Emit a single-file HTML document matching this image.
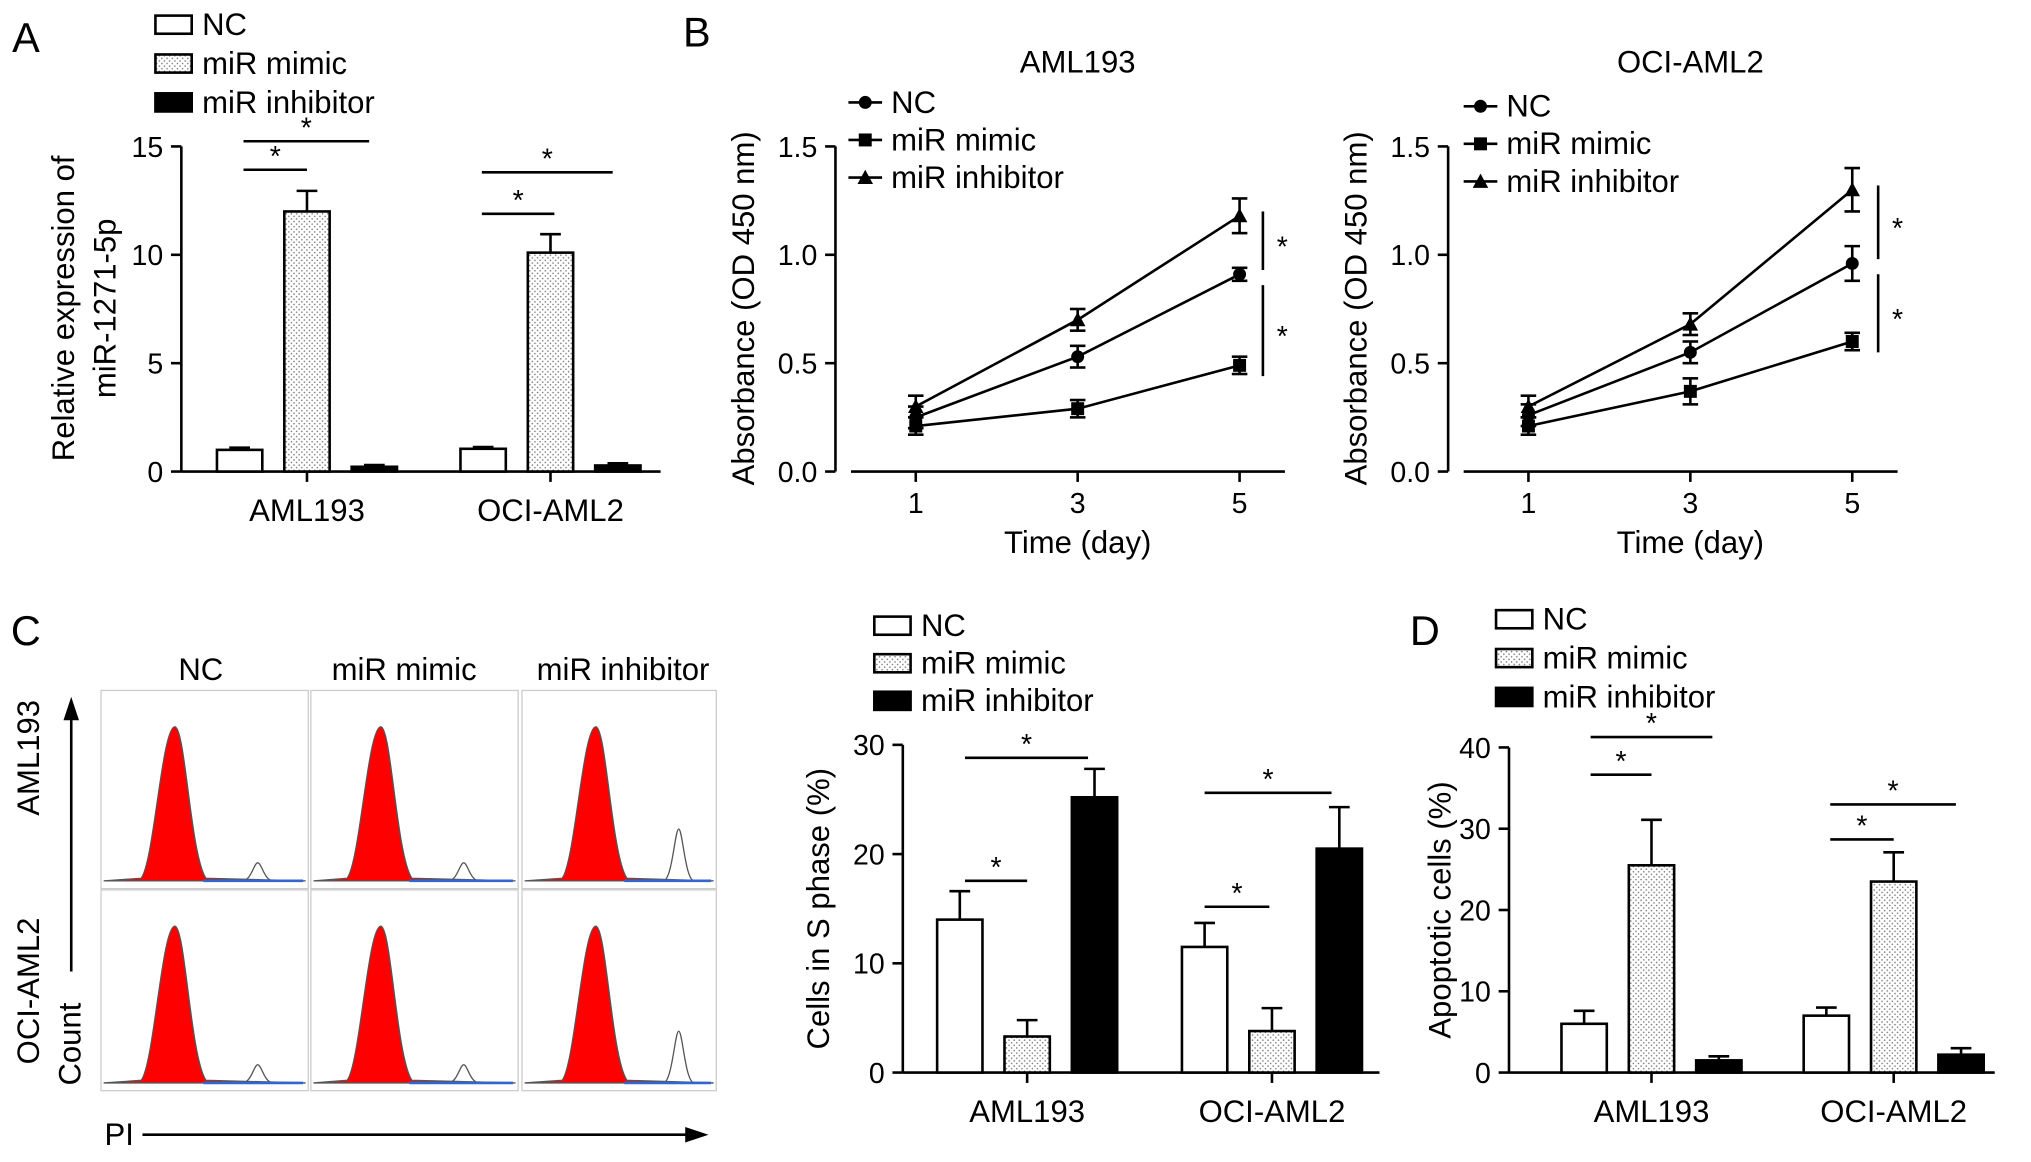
<!DOCTYPE html>
<html><head><meta charset="utf-8">
<style>
html,body{margin:0;padding:0;background:#fff;}
svg{display:block;font-family:"Liberation Sans",Arial,sans-serif;}
</style></head>
<body>
<svg id="fig" width="2031" height="1162" viewBox="0 0 1568 897" xmlns="http://www.w3.org/2000/svg">
<defs>
<pattern id="dots" width="4" height="4" patternUnits="userSpaceOnUse">
<rect width="4" height="4" fill="#fff"/><circle cx="1" cy="1" r="0.6" fill="#777"/><circle cx="3" cy="3" r="0.6" fill="#777"/>
</pattern>
</defs>
<g id="root"></g>
</svg>
<script>
// ---- Panel A data ----
const aGroups = ["AML193", "OCI-AML2"];
const aNC = [1.0, 1.05];
const aMimic = [12.0, 10.1];
const aInhib = [0.22, 0.28];
const aNCErr = [0.1, 0.08];
const aMimicErr = [0.95, 0.85];
const aInhibErr = [0.08, 0.1];
const aTicks = [0, 5, 10, 15];
// ---- Panel B data ----
const bDays = [1, 3, 5];
const bLeftNC = [0.25, 0.53, 0.91];
const bLeftMimic = [0.21, 0.29, 0.49];
const bLeftInhib = [0.30, 0.70, 1.18];
const bLeftNCErr = [0.05, 0.05, 0.03];
const bLeftMimicErr = [0.04, 0.04, 0.04];
const bLeftInhibErr = [0.05, 0.05, 0.08];
const bRightNC = [0.26, 0.55, 0.96];
const bRightMimic = [0.21, 0.37, 0.60];
const bRightInhib = [0.30, 0.68, 1.30];
const bRightNCErr = [0.05, 0.05, 0.08];
const bRightMimicErr = [0.04, 0.06, 0.04];
const bRightInhibErr = [0.05, 0.05, 0.1];
const bTicks = [0.0, 0.5, 1.0, 1.5];
// ---- Panel C bar data ----
const cNC = [14.0, 11.5];
const cMimic = [3.3, 3.8];
const cInhib = [25.2, 20.5];
const cNCErr = [2.6, 2.2];
const cMimicErr = [1.5, 2.1];
const cInhibErr = [2.6, 3.8];
const cTicks = [0, 10, 20, 30];
// ---- Panel D data ----
const dNC = [6.0, 7.0];
const dMimic = [25.5, 23.5];
const dInhib = [1.5, 2.2];
const dNCErr = [1.6, 1.0];
const dMimicErr = [5.6, 3.6];
const dInhibErr = [0.5, 0.8];
const dTicks = [0, 10, 20, 30, 40];

const NS = "http://www.w3.org/2000/svg";
const root = document.getElementById("root");
function el(tag, attrs, parent, txt){
  const e = document.createElementNS(NS, tag);
  for (const k in attrs) e.setAttribute(k, attrs[k]);
  if (txt !== undefined) e.textContent = txt;
  (parent || root).appendChild(e);
  return e;
}
function line(x1,y1,x2,y2,w,name){
  const e = el("line",{x1,y1,x2,y2,stroke:"#000","stroke-width":w||2});
  
  
  return e;
}
function text(x,y,s,size,anchor,name,rot){
  const a = {x,y,"font-size":size,"text-anchor":anchor||"middle",fill:"#000"};
  if (rot) a.transform = "rotate(-90 "+x+" "+y+")";
  const e = el("text",a,null,s);
  
  
  return e;
}
const fills = ["#fff","url(#dots)","#000"];

function legend(x,y0,dy,name,ww){
  const labs = ["NC","miR mimic","miR inhibitor"];
  labs.forEach((l,i)=>{
    const r = el("rect",{x:x,y:y0+i*dy-7,width:ww||28,height:14,fill:fills[i],stroke:"#000","stroke-width":2});
    
    
    text(x+(ww||28)+8, y0+i*dy+8, l, 24, "start", name+'-entry');
  });
}

function barPanel(opt){
  const {ax, y0, y1, vmax, ticks, xEnd, centers, series, errs, groups, ylab, labX, name} = opt;
  const ys = v => y0 - (v/vmax)*(y0-y1);
  line(ax, y1, ax, y0, 2, name+'-y-axis');
  line(ax, y0, xEnd, y0, 2, name+'-x-axis');
  ticks.forEach(t=>{
    line(ax-8, ys(t), ax, ys(t), 2, name+'-y-tick');
    text(ax-14, ys(t)+8, String(t), 22, "end", name+'-y-tick-label');
  });
  const bw = 35, gap = 52;
  groups.forEach((g,gi)=>{
    line(centers[gi], y0, centers[gi], y0+8, 2, name+'-x-tick');
    text(centers[gi], y0+38, g, 24, "middle", name+'-x-tick-label');
    series.forEach((s,si)=>{
      const cx = centers[gi] + (si-1)*gap;
      const v = s[gi], e = errs[si][gi];
      const r = el("rect",{x:cx-bw/2,y:ys(v),width:bw,height:y0-ys(v),fill:fills[si],stroke:"#000","stroke-width":2});
      
      
      line(cx, ys(v+e), cx, ys(v), 2, name+'-error-bar');
      line(cx-8, ys(v+e), cx+8, ys(v+e), 2, name+'-error-cap');
      if (si===2) { line(cx, ys(v), cx, ys(Math.max(v-e,0)), 2, name+'-error-bar'); line(cx-8, ys(Math.max(v-e,0)), cx+8, ys(Math.max(v-e,0)), 2, name+'-error-cap'); }
    });
  });
  if (ylab) text(labX, (y0+y1)/2, ylab, 24, "middle", name+'-y-axis-title', true);
  return ys;
}
function sig(x1,x2,y,name){
  line(x1,y,x2,y,2,name+'-sig-line');
  text((x1+x2)/2, y-3, "*", 22, "middle", name+'-sig-star');
}

// ===== Panel A =====
text(20, 40, "A", 32, "middle", "panel-a-letter");
legend(120, 19, 30, "legend-a");
barPanel({ax:140,y0:364,y1:113,vmax:15,ticks:aTicks,xEnd:510,centers:[237,425],
  series:[aNC,aMimic,aInhib],errs:[aNCErr,aMimicErr,aInhibErr],groups:aGroups,ylab:"",labX:50,name:"panel-a"});
text(57, 238, "Relative expression of", 24, "middle", "panel-a-y-axis-title", true);
text(89, 238, "miR-1271-5p", 24, "middle", "panel-a-y-axis-title-2", true);
sig(188,237,131,"panel-a"); sig(188,285,109,"panel-a");
sig(372,428,165,"panel-a"); sig(372,473,133,"panel-a");

// ===== Panel B =====
text(538, 36, "B", 32, "middle", "panel-b-letter");
function linePanel(opt){
  const {ax, x1, x5, title, nc, mi, inh, ncE, miE, inE, legX, legY, name, sigX} = opt;
  const y0=364, y1=113;
  const ys = v => y0 - (v/1.5)*(y0-y1);
  const xs = d => x1 + (d-1)/4*(x5-x1);
  line(ax, y1, ax, y0, 2, name+'-y-axis');
  line(ax+12, y0, x5+35, y0, 2, name+'-x-axis');
  bTicks.forEach(t=>{
    line(ax-8, ys(t), ax, ys(t), 2, name+'-y-tick');
    text(ax-14, ys(t)+8, t.toFixed(1), 22, "end", name+'-y-tick-label');
  });
  bDays.forEach(d=>{
    line(xs(d), y0, xs(d), y0+8, 2, name+'-x-tick');
    text(xs(d), y0+32, String(d), 22, "middle", name+'-x-tick-label');
  });
  text((x1+x5)/2, y0+63, "Time (day)", 24, "middle", name+'-x-axis-title');
  text(ax-63, 238, "Absorbance (OD 450 nm)", 24, "middle", name+'-y-axis-title', true);
  text((x1+x5)/2, 56, title, 24, "middle", name+'-title');
  const sets = [[nc,ncE,"circle"],[mi,miE,"square"],[inh,inE,"triangle"]];
  sets.forEach(([vals,errs,shape],si)=>{
    const pts = bDays.map((d,i)=>xs(d)+","+ys(vals[i])).join(" ");
    const p = el("polyline",{points:pts,fill:"none",stroke:"#000","stroke-width":2});
    
    
    bDays.forEach((d,i)=>{
      const x=xs(d), y=ys(vals[i]), e=errs[i];
      line(x, ys(vals[i]+e), x, ys(vals[i]-e), 2, name+'-error-bar');
      line(x-6, ys(vals[i]+e), x+6, ys(vals[i]+e), 2, name+'-error-cap');
      line(x-6, ys(vals[i]-e), x+6, ys(vals[i]-e), 2, name+'-error-cap');
      let m;
      if (shape==="circle") m = el("circle",{cx:x,cy:y,r:5,fill:"#000"});
      else if (shape==="square") m = el("rect",{x:x-5,y:y-5,width:10,height:10,fill:"#000"});
      else m = el("polygon",{points:(x)+","+(y-6)+" "+(x-6)+","+(y+5)+" "+(x+6)+","+(y+5),fill:"#000"});
      
      
    });
  });
  const labs = ["NC","miR mimic","miR inhibitor"];
  labs.forEach((l,i)=>{
    const y = legY + i*29;
    line(legX, y, legX+26, y, 2, name+'-legend-line');
    let m; const x=legX+13;
    if (i===0) m = el("circle",{cx:x,cy:y,r:5,fill:"#000"});
    else if (i===1) m = el("rect",{x:x-5,y:y-5,width:10,height:10,fill:"#000"});
    else m = el("polygon",{points:x+","+(y-6)+" "+(x-6)+","+(y+5)+" "+(x+6)+","+(y+5),fill:"#000"});
    
    
    text(legX+33, y+8, l, 24, "start", name+'-legend-entry');
  });
  const yA = ys(inh[2]+0.02), yB = ys(nc[2]+0.02), yC = ys(nc[2]-0.05), yD = ys(mi[2]-0.05);
  line(sigX, yA, sigX, yB, 2, name+'-sig-line');
  text(sigX+15, (yA+yB)/2+12, "*", 22, "middle", name+'-sig-star');
  line(sigX, yC, sigX, yD, 2, name+'-sig-line');
  text(sigX+15, (yC+yD)/2+12, "*", 22, "middle", name+'-sig-star');
}
linePanel({ax:645,x1:707,x5:957,title:"AML193",nc:bLeftNC,mi:bLeftMimic,inh:bLeftInhib,
  ncE:bLeftNCErr,miE:bLeftMimicErr,inE:bLeftInhibErr,legX:655,legY:79,name:"panel-b-aml193",sigX:975});
linePanel({ax:1118,x1:1180,x5:1430,title:"OCI-AML2",nc:bRightNC,mi:bRightMimic,inh:bRightInhib,
  ncE:bRightNCErr,miE:bRightMimicErr,inE:bRightInhibErr,legX:1130,legY:82,name:"panel-b-oci-aml2",sigX:1450});

// ===== Panel C flow =====
text(20, 498, "C", 32, "middle", "panel-c-letter");
text(155, 525, "NC", 24, "middle", "flow-col-nc");
text(312, 525, "miR mimic", 24, "middle", "flow-col-mimic");
text(481, 525, "miR inhibitor", 24, "middle", "flow-col-inhibitor");
const cols = [[78,238,137],[240,400,296],[403,553,462]];
const rows = [[533,686],[687,842]];
rows.forEach((r,ri)=>cols.forEach((c,ci)=>{
  const bx = el("rect",{x:c[0],y:r[0],width:c[1]-c[0],height:r[1]-r[0],fill:"#fff",stroke:"#ccc","stroke-width":1});
  
  
  const base = r[1]-6, top = r[0]+28, cx=c[2];
  const d = "M"+(c[0]+2)+","+base+" L"+(cx-28)+","+(base-2)+" C"+(cx-18)+","+(base-15)+" "+(cx-12)+","+top+" "+(cx-2)+","+top+
    " C"+(cx+6)+","+top+" "+(cx+10)+","+(base-20)+" "+(cx+22)+","+(base-2)+" L"+(c[1]-2)+","+base+" Z";
  const pk = el("path",{d:d,fill:"#f00",stroke:"#555","stroke-width":1});
  
  
  const g2x = cx + 62, h = ci===2 ? 40 : 14;
  const g2 = el("path",{d:"M"+(g2x-12)+","+base+" C"+(g2x-5)+","+base+" "+(g2x-3)+","+(base-h)+" "+g2x+","+(base-h)+" C"+(g2x+3)+","+(base-h)+" "+(g2x+5)+","+base+" "+(g2x+12)+","+base,fill:"none",stroke:"#555","stroke-width":1});
  
  
  const bl = el("line",{x1:cx+20,y1:base,x2:c[1]-4,y2:base,stroke:"#36c","stroke-width":2});
  
  
}));
line(55, 750, 55, 552, 2, "count-arrow-shaft");
const ah = el("polygon",{points:"55,538 49,556 61,556",fill:"#000"});
 
text(30, 585, "AML193", 24, "middle", "flow-row-aml193", true);
text(30, 765, "OCI-AML2", 24, "middle", "flow-row-oci-aml2", true);
text(62, 806, "Count", 24, "middle", "flow-y-label", true);
text(92, 884, "PI", 24, "middle", "flow-x-label");
line(110, 876, 535, 876, 2, "pi-arrow-shaft");
const ph = el("polygon",{points:"547,876 529,870 529,882",fill:"#000"});
 

// ===== Panel C bar =====
legend(675, 483, 29, "legend-c");
barPanel({ax:697,y0:828,y1:575,vmax:30,ticks:cTicks,xEnd:1065,centers:[793,982],
  series:[cNC,cMimic,cInhib],errs:[cNCErr,cMimicErr,cInhibErr],groups:["AML193","OCI-AML2"],
  ylab:"Cells in S phase (%)",labX:640,name:"panel-c"});
sig(745,793,680,"panel-c"); sig(745,840,585,"panel-c");
sig(930,980,700,"panel-c"); sig(930,1028,612,"panel-c");

// ===== Panel D =====
text(1100, 498, "D", 32, "middle", "panel-d-letter");
legend(1155, 478, 30, "legend-d");
barPanel({ax:1165,y0:828,y1:577,vmax:40,ticks:dTicks,xEnd:1540,centers:[1275,1462],
  series:[dNC,dMimic,dInhib],errs:[dNCErr,dMimicErr,dInhibErr],groups:["AML193","OCI-AML2"],
  ylab:"Apoptotic cells (%)",labX:1120,name:"panel-d"});
sig(1228,1275,598,"panel-d"); sig(1228,1322,569,"panel-d");
sig(1413,1462,648,"panel-d"); sig(1413,1510,621,"panel-d");
</script>
</body></html>
